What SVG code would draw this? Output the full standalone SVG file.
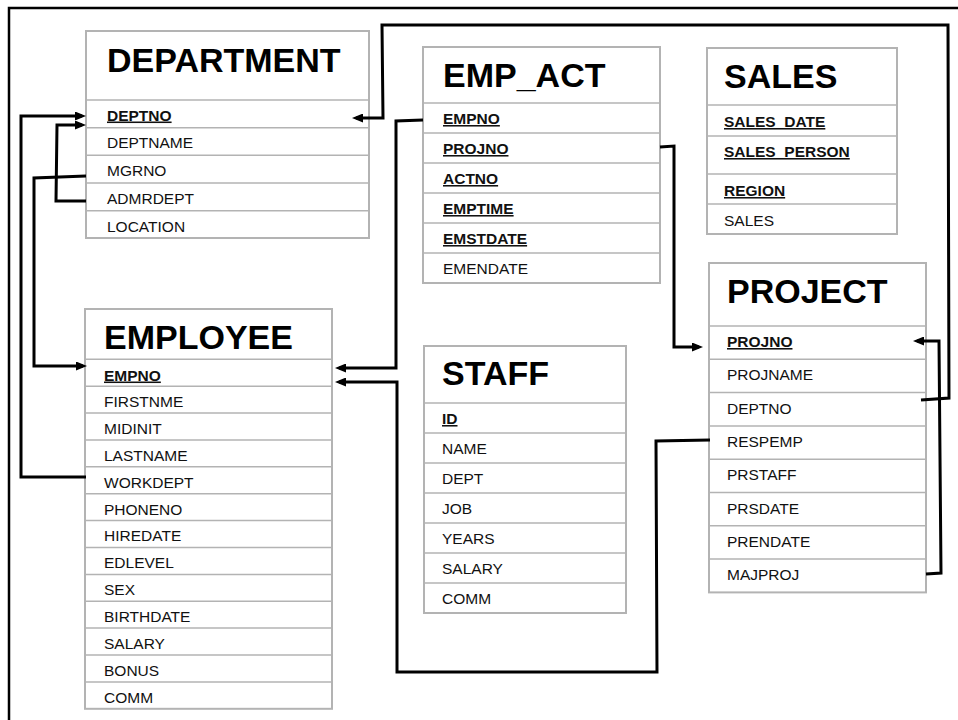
<svg xmlns="http://www.w3.org/2000/svg" width="958" height="720" viewBox="0 0 958 720">
<style>
.box{fill:#fff;stroke:#b3b3b3;stroke-width:2}
.sep{stroke:#b3b3b3;stroke-width:1.5}
.title{font-family:"Liberation Sans",Arial,sans-serif;font-weight:bold;font-size:34px;fill:#000}
.f{font-family:"Liberation Sans",Arial,sans-serif;font-size:15.5px;fill:#111}
.k{font-family:"Liberation Sans",Arial,sans-serif;font-size:15.5px;font-weight:bold;text-decoration:underline;fill:#111}
.c{fill:none;stroke:#000;stroke-width:3;stroke-linejoin:miter}
.frame{fill:none;stroke:#000;stroke-width:2.5}
</style>
<defs>
<marker id="arr" viewBox="0 0 11 9" refX="7" refY="4.5" markerWidth="11" markerHeight="9" markerUnits="userSpaceOnUse" orient="auto">
<path d="M0,0 L11,4.5 L0,9 z" fill="#000"/>
</marker>
</defs>
<rect width="958" height="720" fill="#fff"/>
<path class="frame" d="M9,720 L9,8 L958,8"/>

<g id="department">
<rect class="box" x="86" y="31" width="283" height="207"/>
<line class="sep" x1="86" y1="100" x2="369" y2="100"/>
<line class="sep" x1="86" y1="127.7" x2="369" y2="127.7"/>
<line class="sep" x1="86" y1="155.3" x2="369" y2="155.3"/>
<line class="sep" x1="86" y1="183" x2="369" y2="183"/>
<line class="sep" x1="86" y1="210.7" x2="369" y2="210.7"/>
<text class="title" x="107" y="72">DEPARTMENT</text>
<text class="k" x="107" y="120.5">DEPTNO</text>
<text class="f" x="107" y="148">DEPTNAME</text>
<text class="f" x="107" y="176">MGRNO</text>
<text class="f" x="107" y="204">ADMRDEPT</text>
<text class="f" x="107" y="231.5">LOCATION</text>
</g>

<g id="emp_act">
<rect class="box" x="423" y="47" width="237" height="236"/>
<line class="sep" x1="423" y1="103" x2="660" y2="103"/>
<line class="sep" x1="423" y1="133" x2="660" y2="133"/>
<line class="sep" x1="423" y1="163" x2="660" y2="163"/>
<line class="sep" x1="423" y1="193" x2="660" y2="193"/>
<line class="sep" x1="423" y1="223" x2="660" y2="223"/>
<line class="sep" x1="423" y1="253" x2="660" y2="253"/>
<text class="title" x="443" y="87">EMP_ACT</text>
<text class="k" x="443" y="124">EMPNO</text>
<text class="k" x="443" y="154">PROJNO</text>
<text class="k" x="443" y="184">ACTNO</text>
<text class="k" x="443" y="214">EMPTIME</text>
<text class="k" x="443" y="244">EMSTDATE</text>
<text class="f" x="443" y="273.5">EMENDATE</text>
</g>

<g id="sales">
<rect class="box" x="707" y="48" width="190" height="186"/>
<line class="sep" x1="707" y1="105" x2="897" y2="105"/>
<line class="sep" x1="707" y1="136" x2="897" y2="136"/>
<line class="sep" x1="707" y1="174" x2="897" y2="174"/>
<line class="sep" x1="707" y1="204" x2="897" y2="204"/>
<text class="title" x="724" y="88">SALES</text>
<text class="k" x="724" y="127">SALES_DATE</text>
<text class="k" x="724" y="157">SALES_PERSON</text>
<text class="k" x="724" y="196">REGION</text>
<text class="f" x="724" y="226">SALES</text>
</g>

<g id="employee">
<rect class="box" x="85" y="309" width="247" height="399.8"/>
<line class="sep" x1="85" y1="359.3" x2="332" y2="359.3"/>
<line class="sep" x1="85" y1="386.2" x2="332" y2="386.2"/>
<line class="sep" x1="85" y1="413.1" x2="332" y2="413.1"/>
<line class="sep" x1="85" y1="440" x2="332" y2="440"/>
<line class="sep" x1="85" y1="466.8" x2="332" y2="466.8"/>
<line class="sep" x1="85" y1="493.7" x2="332" y2="493.7"/>
<line class="sep" x1="85" y1="520.6" x2="332" y2="520.6"/>
<line class="sep" x1="85" y1="547.5" x2="332" y2="547.5"/>
<line class="sep" x1="85" y1="574.4" x2="332" y2="574.4"/>
<line class="sep" x1="85" y1="601.2" x2="332" y2="601.2"/>
<line class="sep" x1="85" y1="628.1" x2="332" y2="628.1"/>
<line class="sep" x1="85" y1="655" x2="332" y2="655"/>
<line class="sep" x1="85" y1="681.9" x2="332" y2="681.9"/>
<text class="title" x="104" y="349">EMPLOYEE</text>
<text class="k" x="104" y="380.5">EMPNO</text>
<text class="f" x="104" y="407">FIRSTNME</text>
<text class="f" x="104" y="434">MIDINIT</text>
<text class="f" x="104" y="461">LASTNAME</text>
<text class="f" x="104" y="487.6">WORKDEPT</text>
<text class="f" x="104" y="514.5">PHONENO</text>
<text class="f" x="104" y="541.4">HIREDATE</text>
<text class="f" x="104" y="568.3">EDLEVEL</text>
<text class="f" x="104" y="595.2">SEX</text>
<text class="f" x="104" y="622">BIRTHDATE</text>
<text class="f" x="104" y="649">SALARY</text>
<text class="f" x="104" y="675.8">BONUS</text>
<text class="f" x="104" y="702.7">COMM</text>
</g>

<g id="staff">
<rect class="box" x="424" y="346" width="202" height="267"/>
<line class="sep" x1="424" y1="403" x2="626" y2="403"/>
<line class="sep" x1="424" y1="433" x2="626" y2="433"/>
<line class="sep" x1="424" y1="463" x2="626" y2="463"/>
<line class="sep" x1="424" y1="493" x2="626" y2="493"/>
<line class="sep" x1="424" y1="523" x2="626" y2="523"/>
<line class="sep" x1="424" y1="553" x2="626" y2="553"/>
<line class="sep" x1="424" y1="583" x2="626" y2="583"/>
<text class="title" x="442" y="385">STAFF</text>
<text class="k" x="442" y="424">ID</text>
<text class="f" x="442" y="454">NAME</text>
<text class="f" x="442" y="484">DEPT</text>
<text class="f" x="442" y="514">JOB</text>
<text class="f" x="442" y="544">YEARS</text>
<text class="f" x="442" y="574">SALARY</text>
<text class="f" x="442" y="604">COMM</text>
</g>

<g id="project">
<rect class="box" x="709" y="263" width="217" height="329.4"/>
<line class="sep" x1="709" y1="326" x2="926" y2="326"/>
<line class="sep" x1="709" y1="359.3" x2="926" y2="359.3"/>
<line class="sep" x1="709" y1="392.6" x2="926" y2="392.6"/>
<line class="sep" x1="709" y1="425.9" x2="926" y2="425.9"/>
<line class="sep" x1="709" y1="459.2" x2="926" y2="459.2"/>
<line class="sep" x1="709" y1="492.5" x2="926" y2="492.5"/>
<line class="sep" x1="709" y1="525.8" x2="926" y2="525.8"/>
<line class="sep" x1="709" y1="559.1" x2="926" y2="559.1"/>
<text class="title" x="727" y="303">PROJECT</text>
<text class="k" x="727" y="347">PROJNO</text>
<text class="f" x="727" y="380.3">PROJNAME</text>
<text class="f" x="727" y="413.6">DEPTNO</text>
<text class="f" x="727" y="447">RESPEMP</text>
<text class="f" x="727" y="480">PRSTAFF</text>
<text class="f" x="727" y="513.5">PRSDATE</text>
<text class="f" x="727" y="547">PRENDATE</text>
<text class="f" x="727" y="580">MAJPROJ</text>
</g>

<g id="connectors">
<path class="c" marker-end="url(#arr)" d="M86,477 L21,477 L21,116 L82,116"/>
<path class="c" marker-end="url(#arr)" d="M86,201 L56,201 L57,125 L82,125"/>
<path class="c" marker-end="url(#arr)" d="M86,176 L34,178 L34,366 L83,366"/>
<path class="c" marker-end="url(#arr)" d="M921,400 L949,398 L948,25 L382,25 L383,118 L356,118"/>
<path class="c" marker-end="url(#arr)" d="M423,120 L396,121 L396,368 L339,368"/>
<path class="c" marker-end="url(#arr)" d="M710,440 L656,441 L657,672 L397,672 L397,382 L339,382"/>
<path class="c" marker-end="url(#arr)" d="M660,147 L674,146 L674,347 L699,347"/>
<path class="c" marker-end="url(#arr)" d="M926,574 L941,573 L939,341 L917,341"/>
</g>
</svg>
